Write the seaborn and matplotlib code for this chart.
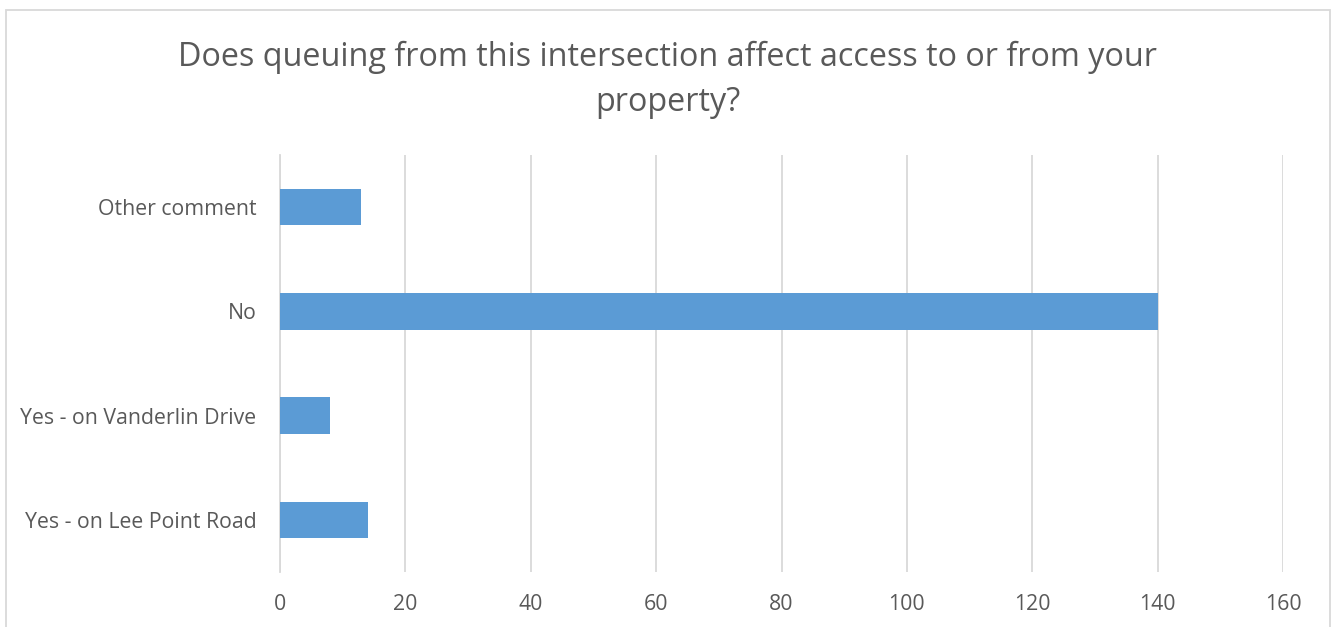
import matplotlib
matplotlib.use("Agg")
import matplotlib.pyplot as plt
import seaborn as sns
import pandas as pd
from matplotlib.patches import Rectangle

categories = ["Other comment", "No", "Yes - on Vanderlin Drive", "Yes - on Lee Point Road"]
counts = [13, 140, 8, 14]
x_ticks = [0, 20, 40, 60, 80, 100, 120, 140, 160]
title = "Does queuing from this intersection affect access to or from your\nproperty?"

sns.set_theme(style="white")
plt.rcParams['font.family'] = ['Open Sans', 'DejaVu Sans']

df = pd.DataFrame({"category": categories, "count": counts})

fig = plt.figure(figsize=(13.42, 6.27), dpi=100)
ax = fig.add_axes([280/1342, 1-572/627, (1283-280)/1342, (572-155)/627])

sns.barplot(data=df, y="category", x="count", order=categories, color="#5B9BD5",
            saturation=1, width=0.35, ax=ax, zorder=3, linewidth=0)

ax.set_xlim(0, 160)
ax.set_ylim(3.5, -0.5)
ax.set_xticks(x_ticks)
ax.set_xticklabels([str(t) for t in x_ticks])
ax.set_xlabel("")
ax.set_ylabel("")
ax.grid(axis="x", color="#D9D9D9", linewidth=1.3, zorder=0)
ax.grid(axis="y", visible=False)
for s in ["top", "right", "bottom"]:
    ax.spines[s].set_visible(False)
ax.spines["left"].set_color("#D9D9D9")
ax.spines["left"].set_linewidth(1.3)
ax.tick_params(axis="both", length=0, labelsize=15.3, colors="#595959")
ax.tick_params(axis="y", pad=17)
ax.tick_params(axis="x", pad=16)

fig.text(668/1342, 1-80/627, title, ha="center", va="center", fontsize=23.3,
         color="#595959", linespacing=1.45)

border = Rectangle((6/1342, -0.1), (1330-6)/1342, 1-10/627+0.1, transform=fig.transFigure,
                   fill=False, edgecolor="#D9D9D9", linewidth=1.3)
fig.patches.append(border)

fig.savefig("out.png", dpi=100)
